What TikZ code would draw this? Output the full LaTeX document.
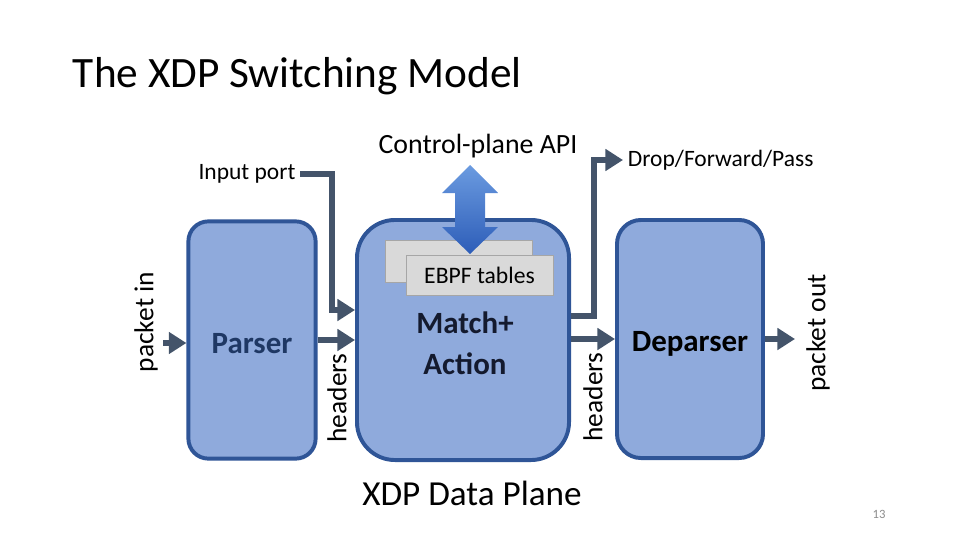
\documentclass[tikz,border=0pt]{standalone}
\usepackage{fontspec}
\setmainfont{Carlito}
\usetikzlibrary{arrows.meta,positioning}
\definecolor{stagefill}{HTML}{8FAADC}
\definecolor{stageline}{HTML}{2F5597}
\definecolor{flowgray}{HTML}{44546A}
\definecolor{tablefill}{HTML}{D9D9D9}
\definecolor{navytext}{HTML}{1F3864}
\definecolor{darktext}{HTML}{141A2E}
\definecolor{apitop}{HTML}{6B9BE0}
\definecolor{apibottom}{HTML}{2D5DB8}
\begin{document}
\begin{tikzpicture}[x=.025cm,y=-.025cm,
  stage/.style={draw=stageline,line width=2.8pt,fill=stagefill,
    font=\fontsize{22}{29}\selectfont\bfseries,align=center},
  flow/.style={draw=flowgray,line width=4.3pt,
    -{Triangle[length=12.5pt,width=15pt]}},
  lbl/.style={font=\fontsize{16.7}{20}\selectfont},
  sidelbl/.style={font=\fontsize{19.5}{22}\selectfont,rotate=90},
  tablebox/.style={draw=black!35,fill=tablefill,line width=.6pt,
    minimum width=3.675cm,font=\fontsize{16.8}{20}\selectfont}]
\useasboundingbox (0,0) rectangle (960,540);
\node[anchor=base west,font=\fontsize{30.8}{36}\selectfont] (title) at (68,87)
 {The XDP Switching Model};
% the three stages
\node[stage,minimum width=3.18cm,minimum height=5.93cm,rounded corners=.5cm,
 text=navytext] (parser) at (252,340)
 {\raisebox{-2.5pt}[\height][\depth]{Parser}};
\node[stage,minimum width=5.3cm,minimum height=6cm,rounded corners=.95cm,
 text=darktext] (match) at (463,340) {};
\node[stage,minimum width=3.65cm,minimum height=5.95cm,rounded corners=.6cm,
 text=black] (deparser) at (690,339)
 {\raisebox{-3.5pt}[\height][\depth]{Deparser}};
\node[font=\fontsize{22}{29}\selectfont\bfseries,align=center,text=darktext]
 (action) at (465,343) {Match+\\Action};
\node[font=\fontsize{25}{30}\selectfont] (plane) at (472,493) {XDP Data Plane};
% tables and control plane
\node[tablebox,minimum height=1.05cm] (tabback) at (458.5,261) {};
\node[tablebox,minimum height=1cm] (tabfront) at (479.5,275) {EBPF tables};
\shade[top color=apitop,bottom color=apibottom]
 (470,165) -- (498,193) -- (485,193) -- (485,227) -- (498,227) -- (470,254)
 -- (442,227) -- (455,227) -- (455,193) -- (442,193) -- cycle;
\node[font=\fontsize{19.8}{24}\selectfont] (api) at (478,146) {Control-plane API};
% inputs and outputs
\node[lbl] (inport) at (247,174) {Input port};
\node[lbl,anchor=west] (drop) at (623,160) {Drop/Forward/Pass};
\coordinate (pktin) at (163,343);
\coordinate (pktout) at (795,339);
\coordinate (inbend) at (332,310);
\coordinate (dropbend) at (594,316);
\draw[flow] (pktin) -- (parser.west |- pktin);
\draw[flow] (parser.east) -- (match.west |- parser.east);
\draw[flow] (inport.east) -| (inbend) -- (inbend -| match.west);
\draw[flow] (match.east |- deparser.east) -- (deparser.east -| deparser.west);
\draw[flow] (match.east |- dropbend) -- (dropbend) |- (drop.west);
\draw[flow] (deparser.east) -- (pktout);
\node[sidelbl] (inlbl) at (146,322) {packet in};
\node[sidelbl] (hdrone) at (337,398) {headers};
\node[sidelbl] (hdrtwo) at (593,397) {headers};
\node[sidelbl] (outlbl) at (818,333) {packet out};
\node[font=\fontsize{9}{10}\selectfont,text=black!45] (pageno) at (879,514) {13};
\end{tikzpicture}
\end{document}
